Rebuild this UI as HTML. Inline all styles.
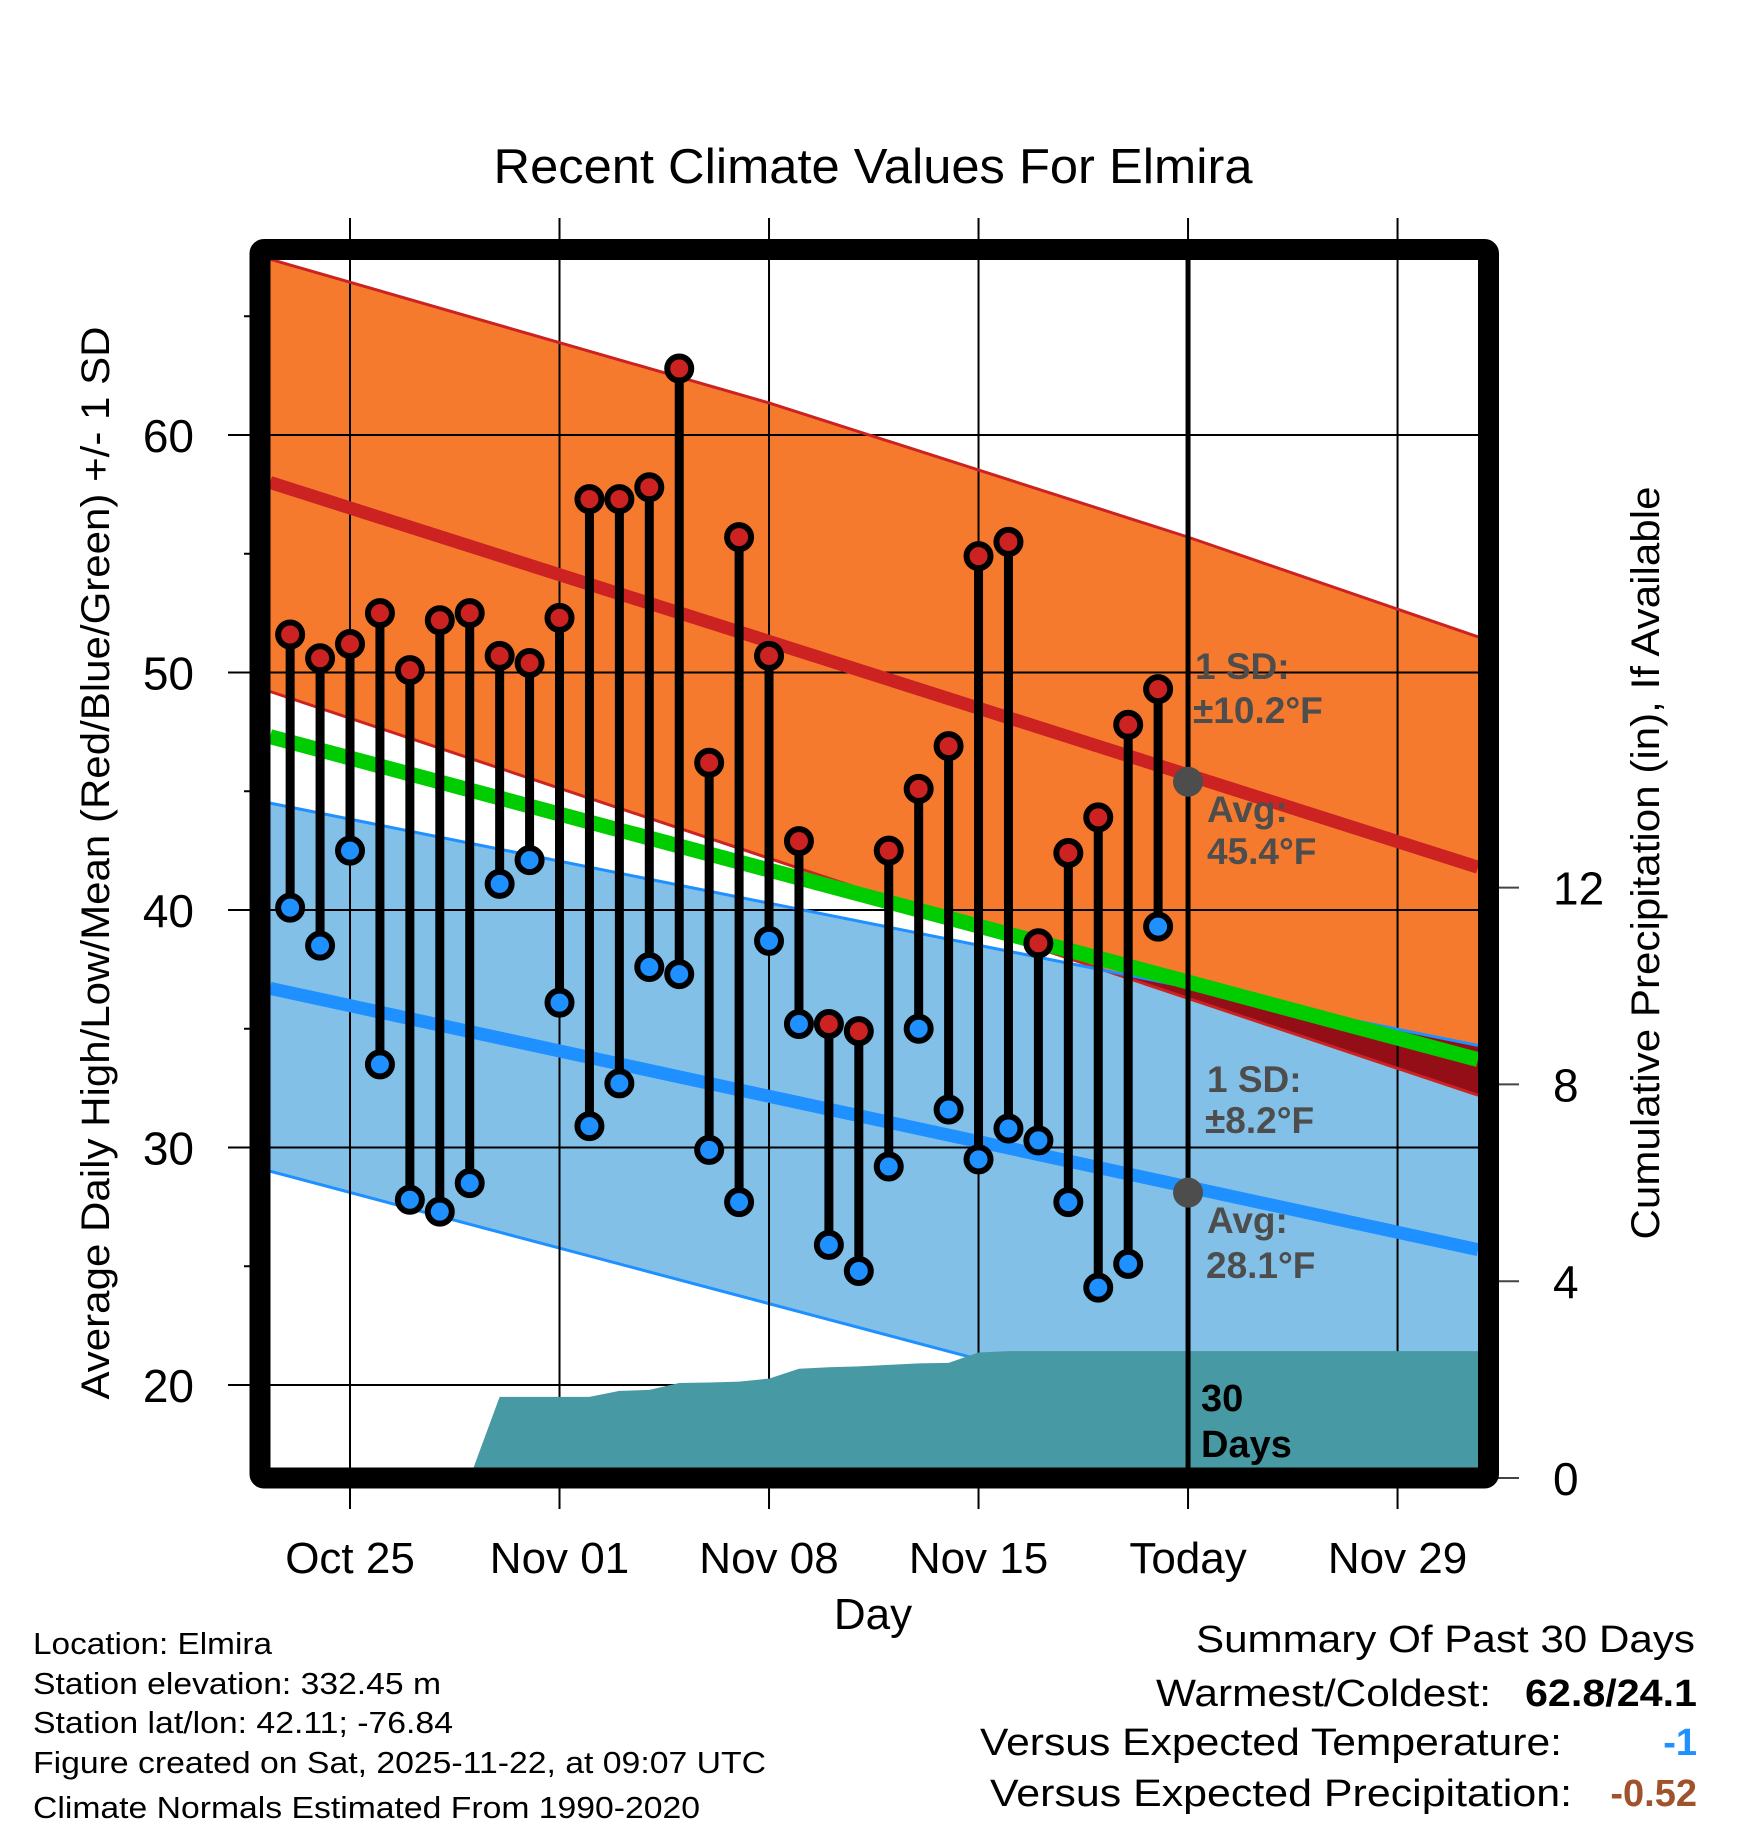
<!DOCTYPE html>
<html><head><meta charset="utf-8"><style>
html,body{margin:0;padding:0;background:#fff}
svg{display:block}
text{font-family:"Liberation Sans",Arial,sans-serif}
</style></head><body>
<svg id="chart" width="1748" height="1828" viewBox="0 0 1748 1828" xmlns="http://www.w3.org/2000/svg">
<defs><clipPath id="plotclip"><rect x="270" y="260" width="1208" height="1208"/></clipPath></defs>
<g id="bands" clip-path="url(#plotclip)"></g>
<g id="grid"></g>
<g id="precip" clip-path="url(#plotclip)"></g>
<g id="lines" clip-path="url(#plotclip)"></g>
<g id="marks"></g>
<g id="axes"></g>
<g id="labels"></g>
</svg>
<script>
// ---- data ----
const dayLabels = ["Oct 25","Nov 01","Nov 08","Nov 15","Today","Nov 29"];
const dayTicks = [0,7,14,21,28,35];           // days since Oct 25
const firstDay = -2;                            // Oct 23
const highs = [51.6,50.6,51.2,52.5,50.1,52.2,52.5,50.7,50.4,52.3,57.3,57.3,57.8,62.8,46.2,55.7,50.7,42.9,35.2,34.9,42.5,45.1,46.9,54.9,55.5,38.6,42.4,43.9,47.8,49.3];
const lows  = [40.1,38.5,42.5,33.5,27.8,27.3,28.5,41.1,42.1,36.1,30.9,32.7,37.6,37.3,29.9,27.7,38.7,35.2,25.9,24.8,29.2,35.0,31.6,29.5,30.8,30.3,27.7,24.1,25.1,39.3];
const precip = [0,0,0,0,0,0,0,1.65,1.65,1.65,1.65,1.77,1.79,1.93,1.94,1.96,2.02,2.22,2.25,2.27,2.30,2.33,2.34,2.55,2.58,2.58,2.58,2.58,2.58,2.58];
const normalDays = [-2.67, 37.69];
const highUpperDays = [-2.67, 14, 28, 37.69];
const highUpper = [67.4, 61.35, 55.7, 51.5];
const highAvg = [58.0, 41.8];
const highLower = [49.2, 32.2];
const meanAvg = [47.3, 33.7];
const lowUpper = [44.5, 34.3];
const lowAvg = [36.7, 25.7];
const lowLower = [29.0, 15.5];
const tempTicks = [20,30,40,50,60];
const tempMinor = [25,35,45,55,65];
const precipTicks = [0,4,8,12];
const todayDay = 28;
const todayHighAvg = 45.4, todayLowAvg = 28.1;

// ---- axes ----
const NS="http://www.w3.org/2000/svg";
const X = d => 350 + 29.93*d;
const Y = v => 435 + (60-v)*23.75;
const P = p => 1478 - 49.2*p;
function mk(parent, tag, attrs){const e=document.createElementNS(NS,tag);for(const k in attrs)e.setAttribute(k,attrs[k]);document.getElementById(parent).appendChild(e);return e;}
function lineAt(arr,d){return arr[0]+(arr[1]-arr[0])*(d-normalDays[0])/(normalDays[1]-normalDays[0]);}
function ptsOf(days,vals){return days.map((d,i)=>`${X(d)},${Y(vals[i])}`);}
function band(upDays,up,loDays,lo){
  return ptsOf(upDays,up).concat(ptsOf(loDays,lo).reverse()).join(' ');
}

let e;
e=mk('bands','polygon',{points:band(normalDays,lowUpper,normalDays,lowLower),fill:'#82c0e8'});


e=mk('bands','polygon',{points:band(highUpperDays,highUpper,normalDays,highLower),fill:'#f57a2e'});


// overlap region
(function(){
  const fa=highLower[0]-lowUpper[0], fb=highLower[1]-lowUpper[1];
  if(fa*fb<0){
    const t=fa/(fa-fb); const dc=normalDays[0]+t*(normalDays[1]-normalDays[0]); const vc=lineAt(highLower,dc);
    const b=normalDays[1];
    const pts=`${X(dc)},${Y(vc)} ${X(b)},${Y(lowUpper[1])} ${X(b)},${Y(highLower[1])}`;
    const o=mk('bands','polygon',{points:pts,fill:'#930e16'});
    
    
  }
})();
e=mk('bands','line',{x1:X(normalDays[0]),y1:Y(lowLower[0]),x2:X(normalDays[1]),y2:Y(lowLower[1]),stroke:'#1e90ff','stroke-width':3});



// grid
dayTicks.forEach((d,i)=>{
  const g=mk('grid','line',{x1:X(d),x2:X(d),y1:218,y2:1509,stroke:'#000','stroke-width':2});
  
  
  const t=mk('axes','text',{x:X(d),y:1573,'font-size':44,'text-anchor':'middle'});
  
  
  t.textContent=dayLabels[i];
});
tempTicks.forEach(v=>{
  const g=mk('grid','line',{x1:228,x2:1478,y1:Y(v),y2:Y(v),stroke:'#000','stroke-width':2});
  
  
  const t=mk('axes','text',{x:194,y:Y(v)+17,'font-size':46,'text-anchor':'end'});
  
  
  t.textContent=v;
});
tempMinor.forEach(v=>{
  const g=mk('axes','line',{x1:244,x2:252,y1:Y(v),y2:Y(v),stroke:'#000','stroke-width':2});
  
  
});
precipTicks.forEach(p=>{
  const g=mk('axes','line',{x1:1497,x2:1519,y1:P(p),y2:P(p),stroke:'#444','stroke-width':2});
  
  
  const t=mk('axes','text',{x:1553,y:P(p)+17,'font-size':46});
  
  
  t.textContent=p;
});

// precip area
(function(){
  let pts=`${X(firstDay)},${P(0)} `;
  precip.forEach((p,i)=>{pts+=`${X(firstDay+i)},${P(p)} `;});
  pts+=`${X(normalDays[1]+1)},${P(precip[precip.length-1])} ${X(normalDays[1]+1)},${P(0)}`;
  const a=mk('precip','polygon',{points:pts,fill:'#479aa3'});
  
  
})();

// normal lines
function nline(days,arr,color,w,name){
  const l=mk('lines','polyline',{points:ptsOf(days,arr).join(' '),fill:'none',stroke:color,'stroke-width':w});
  
  
}
nline(highUpperDays,highUpper,'#cc2222',3,'high-upper-sd-line');
nline(normalDays,highLower,'#cc2222',3,'high-lower-sd-line');
nline(normalDays,lowUpper,'#1e90ff',3,'low-upper-sd-line');
nline(normalDays,highAvg,'#cc2222',13,'avg-high-line');
nline(normalDays,lowAvg,'#1e90ff',13,'avg-low-line');
nline(normalDays,meanAvg,'#00cc00',15,'avg-mean-line');

// today line
e=mk('marks','line',{x1:X(todayDay),x2:X(todayDay),y1:260,y2:1468,stroke:'#000','stroke-width':5});


e=mk('marks','circle',{cx:X(todayDay),cy:Y(todayHighAvg),r:15,fill:'#4d4d4d'});


e=mk('marks','circle',{cx:X(todayDay),cy:Y(todayLowAvg),r:15,fill:'#4d4d4d'});



// daily stems + markers
highs.forEach((h,i)=>{
  const x=X(firstDay+i), l=lows[i];
  const s=mk('marks','line',{x1:x,x2:x,y1:Y(h),y2:Y(l),stroke:'#000','stroke-width':9});
  
  
  const c1=mk('marks','circle',{cx:x,cy:Y(h),r:12,fill:'#cc2222',stroke:'#000','stroke-width':6});
  
  
  const c2=mk('marks','circle',{cx:x,cy:Y(l),r:12,fill:'#1e90ff',stroke:'#000','stroke-width':6});
  
  
});

// frame
e=mk('axes','rect',{x:260,y:249.5,width:1228.5,height:1228.5,fill:'none',stroke:'#000','stroke-width':21,rx:4});


</script>
<svg style="position:absolute;left:0;top:0" width="1748" height="1828" xmlns="http://www.w3.org/2000/svg">
<g font-family="Liberation Sans, Arial, sans-serif">
<text x="873" y="183" font-size="49" text-anchor="middle" textLength="759" lengthAdjust="spacingAndGlyphs">Recent Climate Values For Elmira</text>
<text x="873" y="1629" font-size="44" text-anchor="middle">Day</text>
<text transform="translate(109,863) rotate(-90)" font-size="40" text-anchor="middle" textLength="1073" lengthAdjust="spacingAndGlyphs">Average Daily High/Low/Mean (Red/Blue/Green) +/- 1 SD</text>
<text transform="translate(1659,863) rotate(-90)" font-size="40" text-anchor="middle" textLength="753" lengthAdjust="spacingAndGlyphs">Cumulative Precipitation (in), If Available</text>
<g fill="#4d4d4d" font-weight="bold" font-size="37">
<text x="1195" y="679">1 SD:</text>
<text x="1193" y="723">±10.2°F</text>
<text x="1207" y="822">Avg:</text>
<text x="1207" y="864">45.4°F</text>
<text x="1207" y="1092">1 SD:</text>
<text x="1205" y="1133">±8.2°F</text>
<text x="1207" y="1233">Avg:</text>
<text x="1206" y="1278">28.1°F</text>
</g>
<g fill="#000" font-weight="bold" font-size="38">
<text x="1201" y="1411">30</text>
<text x="1201" y="1457">Days</text>
</g>
<g font-size="31">
<text x="33" y="1654" textLength="239" lengthAdjust="spacingAndGlyphs">Location: Elmira</text>
<text x="33" y="1694" textLength="408" lengthAdjust="spacingAndGlyphs">Station elevation: 332.45 m</text>
<text x="33" y="1733" textLength="420" lengthAdjust="spacingAndGlyphs">Station lat/lon: 42.11; -76.84</text>
<text x="33" y="1773" textLength="733" lengthAdjust="spacingAndGlyphs">Figure created on Sat, 2025-11-22, at 09:07 UTC</text>
<text x="33" y="1818" textLength="667" lengthAdjust="spacingAndGlyphs">Climate Normals Estimated From 1990-2020</text>
</g>
<g font-size="38">
<text x="1695" y="1652" text-anchor="end" textLength="499" lengthAdjust="spacingAndGlyphs">Summary Of Past 30 Days</text>
<text x="1491" y="1706" text-anchor="end" textLength="335" lengthAdjust="spacingAndGlyphs">Warmest/Coldest:</text>
<text x="1697" y="1706" text-anchor="end" font-weight="bold" textLength="172" lengthAdjust="spacingAndGlyphs">62.8/24.1</text>
<text x="1562" y="1755" text-anchor="end" textLength="582" lengthAdjust="spacingAndGlyphs">Versus Expected Temperature:</text>
<text x="1697" y="1755" text-anchor="end" font-weight="bold" fill="#1e90ff">-1</text>
<text x="1572" y="1806" text-anchor="end" textLength="582" lengthAdjust="spacingAndGlyphs">Versus Expected Precipitation:</text>
<text x="1697" y="1806" text-anchor="end" font-weight="bold" fill="#a0522d">-0.52</text>
</g>
</g>
</svg>
</body></html>
